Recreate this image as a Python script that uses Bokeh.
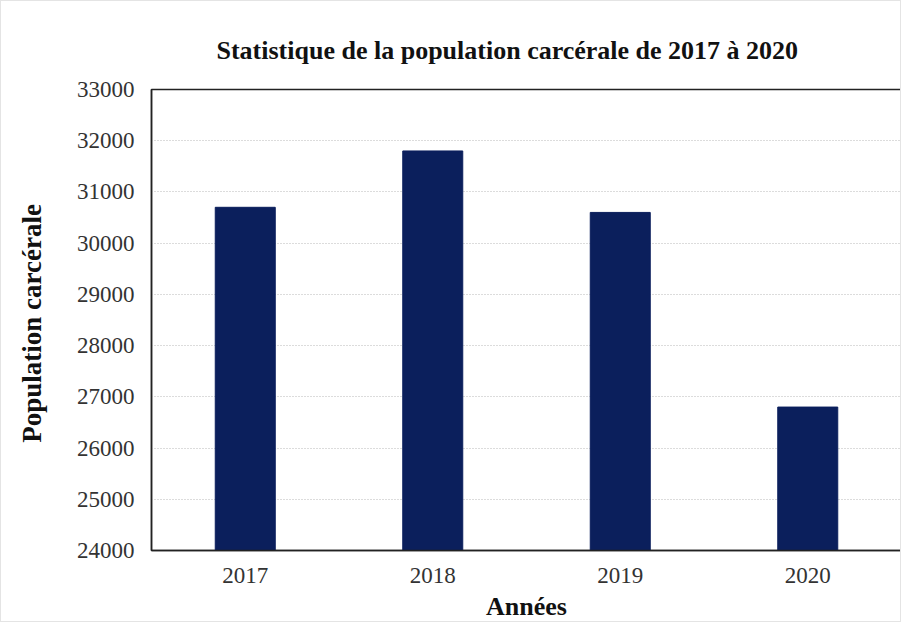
from bokeh.plotting import figure
from bokeh.models import FixedTicker, Range1d
from bokeh.embed import file_html
from bokeh.resources import INLINE

years = ["2017", "2018", "2019", "2020"]
population = [30700, 31800, 30600, 26800]
y_ticks = [24000, 25000, 26000, 27000, 28000, 29000, 30000, 31000, 32000, 33000]

SERIF = "Liberation Serif"

p = figure(x_range=years, y_range=Range1d(24000, 33000), width=901, height=622,
           output_backend="svg", toolbar_location=None,
           min_border_left=150, min_border_right=1, min_border_top=88, min_border_bottom=71,
           title="Statistique de la population  carcérale de 2017 à 2020")

p.vbar(x=years, top=population, bottom=24000, width=0.32, color="#0b1f5c")

p.title.text_font = SERIF
p.title.text_font_size = "26px"
p.title.text_font_style = "bold"
p.title.text_color = "#111111"
p.title.align = "left"
p.title.offset = 65
p.title.standoff = 50

p.outline_line_color = "#222222"
p.outline_line_width = 1.5

p.xgrid.grid_line_color = None
p.ygrid.grid_line_color = "#b8b8b8"
p.ygrid.grid_line_dash = "1 2"
p.ygrid.ticker = FixedTicker(ticks=y_ticks)

p.yaxis.ticker = FixedTicker(ticks=y_ticks)
for ax in (p.xaxis[0], p.yaxis[0]):
    ax.major_tick_line_color = None
    ax.minor_tick_line_color = None
    ax.axis_line_color = "#222222"
    ax.axis_line_width = 1.5
    ax.major_label_text_font = SERIF
    ax.major_label_text_font_size = "23px"
    ax.major_label_text_color = "#333333"
    ax.axis_label_text_font = SERIF
    ax.axis_label_text_font_size = "26px"
    ax.axis_label_text_font_style = "bold"
    ax.axis_label_text_color = "#111111"

p.yaxis.axis_label = "Population  carcérale"
p.yaxis.axis_label_text_font_size = "27px"
p.yaxis.major_label_standoff = 11
p.yaxis.axis_label_standoff = 27
p.xaxis.axis_label = "Années"
p.xaxis.major_label_standoff = 11
p.xaxis.axis_label_standoff = 6

p.styles = {"border": "1px solid #e4e4e4"}

open("out.html", "w").write(file_html(p, INLINE))
